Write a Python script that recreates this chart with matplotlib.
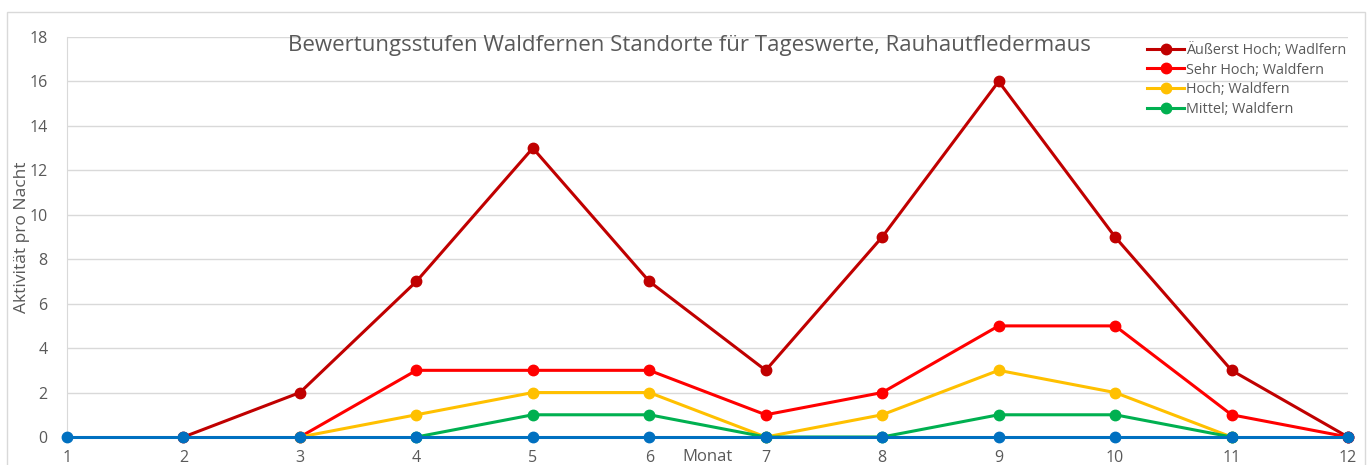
import matplotlib.pyplot as plt
import numpy as np
from matplotlib.patches import Rectangle

nan = np.nan
monate = [1, 2, 3, 4, 5, 6, 7, 8, 9, 10, 11, 12]

# Werte pro Stufe (nan = kein Punkt)
aeusserst_hoch = [nan, 0, 2, 7, 13, 7, 3, 9, 16, 9, 3, 0]
sehr_hoch = [nan, nan, 0, 3, 3, 3, 1, 2, 5, 5, 1, 0]
hoch = [nan, nan, 0, 1, 2, 2, 0, 1, 3, 2, 0, nan]
mittel = [nan, nan, nan, 0, 1, 1, 0, 0, 1, 1, 0, nan]
basis = [0, 0, 0, 0, 0, 0, 0, 0, 0, 0, 0, 0]

serien = [
    ("Äußerst Hoch; Wadlfern", aeusserst_hoch, "#C00000"),
    ("Sehr Hoch; Waldfern", sehr_hoch, "#FF0000"),
    ("Hoch; Waldfern", hoch, "#FFC000"),
    ("Mittel; Waldfern", mittel, "#00B050"),
]

plt.rcParams['font.family'] = ['Open Sans', 'DejaVu Sans']
grau = "#595959"

fig = plt.figure(figsize=(13.7, 4.65), dpi=100)
ax = fig.add_axes([67/1370, 1-437/465, (1348-67)/1370, (437-37)/465])

# Rahmen des Diagrammbereichs
fig.patches.append(Rectangle((7/1370, -0.05), (1365-7)/1370, 1.05-12/465,
                             transform=fig.transFigure, fill=False,
                             edgecolor="#d9d9d9", linewidth=1))

for name, werte, farbe in serien:
    ax.plot(monate, werte, color=farbe, lw=2.2, marker="o", ms=7.5,
            label=name, zorder=3, clip_on=False)
ax.plot(monate, basis, color="#0070C0", lw=2.2, marker="o", ms=7.5,
        zorder=4, clip_on=False)

ax.set_xlim(1, 12)
ax.set_ylim(0, 18)
ax.set_yticks(range(0, 19, 2))
ax.set_xticks(monate)
ax.grid(axis="y", color="#d9d9d9", lw=1)
ax.set_axisbelow(True)
for s in ["top", "right", "bottom"]:
    ax.spines[s].set_visible(False)
ax.spines["left"].set_color("#d9d9d9")
ax.tick_params(length=0, colors=grau, labelsize=11.5)
ax.tick_params(axis="y", pad=14)
ax.tick_params(axis="x", pad=9)

ax.set_ylabel("Aktivität pro Nacht", color=grau, fontsize=12.5)
ax.yaxis.set_label_coords(-0.029, 0.5)
fig.text(708/1370, 1-457/465, "Monat", color=grau, fontsize=12,
         ha="center", va="center")
fig.text(689/1370, 1-45/465,
         "Bewertungsstufen Waldfernen Standorte für Tageswerte, Rauhautfledermaus",
         color=grau, fontsize=16, ha="center", va="center")

leg = ax.legend(loc="upper left", bbox_to_anchor=(1141/1370, 1-37/465),
                bbox_transform=fig.transFigure, frameon=False, fontsize=10.4,
                handlelength=2.6, handletextpad=0.15, labelspacing=0.33,
                borderaxespad=0)
for t in leg.get_texts():
    t.set_color(grau)

fig.savefig("out.png", dpi=100)
